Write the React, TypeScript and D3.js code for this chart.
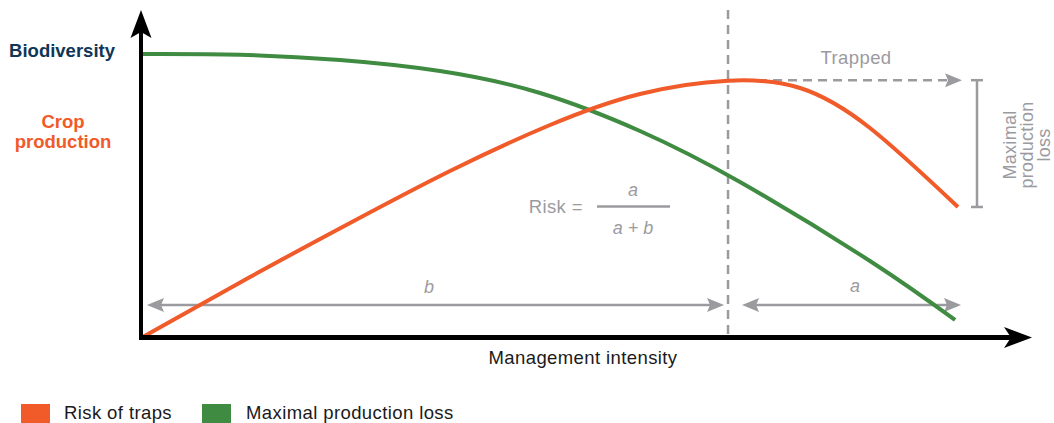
import React from "react";
import * as d3 from "d3";

// Management intensity (0–100) and curve values (0–100)
const greenIntensity = [0, 12.07, 24.27, 36.46, 48.66, 60.85, 73.05, 88.9, 99.27];
const biodiversity = [100, 99.75, 97.89, 94.01, 86.27, 72.89, 54.93, 27.11, 6.34];
const redIntensity = [0, 13.29, 25.49, 37.68, 49.88, 60.85, 71.59, 80.37, 88.9, 99.63];
const cropProduction = [0, 21.48, 40.49, 58.8, 75.0, 85.92, 90.6, 88.03, 73.94, 46.13];
const threshold = 71.59;
const legendItems = ["Risk of traps", "Maximal production loss"];

const ORANGE = "#f15a29";
const GREEN = "#3f8b41";
const NAVY = "#0f3657";
const GREY = "#9b9b9f";
const TEXT = "#1a1a1a";
const FONT = "'Liberation Sans', Arial, Helvetica, sans-serif";

export default function App() {
  const x = d3.scaleLinear().domain([0, 100]).range([141, 961]);
  const y = d3.scaleLinear().domain([0, 100]).range([338, 54]);
  const line = d3
    .line<[number, number]>()
    .x((d) => x(d[0]))
    .y((d) => y(d[1]))
    .curve(d3.curveNatural);
  const greenPts = greenIntensity.map((v, i) => [v, biodiversity[i]] as [number, number]);
  const redPts = redIntensity.map((v, i) => [v, cropProduction[i]] as [number, number]);

  const x0 = x(0);
  const y0 = y(0);
  const xEnd = x(100);
  const xt = x(threshold);
  const peakY = y(d3.max(cropProduction) as number) - 0.5;
  const lossY = y(cropProduction[cropProduction.length - 1]);
  const arrowY = 305;

  const greyHead = (tx: number, ty: number, dir: number) => {
    const L = 17, W = 7, N = 3;
    return `M${tx},${ty} L${tx - dir * L},${ty - W} L${tx - dir * (L - N)},${ty} L${tx - dir * L},${ty + W} Z`;
  };

  const fs = 18.5;
  const ls = 0.4;

  return (
    <svg width={1054} height={423} style={{ position: "absolute", left: 0, top: 0, fontFamily: FONT }}>
      <rect width={1054} height={423} fill="#fff" />
      {/* y labels */}
      <text x={115} y={57} textAnchor="end" fontSize={18.5} fontWeight="bold" fill={NAVY}>Biodiversity</text>
      <text x={63} y={128} textAnchor="middle" fontSize={18.5} fontWeight="bold" fill={ORANGE}>Crop</text>
      <text x={63} y={148} textAnchor="middle" fontSize={18.5} fontWeight="bold" fill={ORANGE}>production</text>

      {/* dashed threshold */}
      <line x1={xt} x2={xt} y1={10} y2={y0} stroke={GREY} strokeWidth={2.5} strokeDasharray="9,6" />
      <line x1={xt} x2={xEnd - 12} y1={peakY} y2={peakY} stroke={GREY} strokeWidth={2.5} strokeDasharray="9,6" />
      <path d={greyHead(xEnd + 1, peakY, 1)} fill={GREY} />
      <text x={856} y={64} textAnchor="middle" fontSize={fs} letterSpacing={ls} fill={GREY}>Trapped</text>

      {/* bracket */}
      <line x1={977} x2={977} y1={peakY} y2={lossY} stroke={GREY} strokeWidth={2.5} />
      <line x1={971} x2={983} y1={peakY} y2={peakY} stroke={GREY} strokeWidth={2.5} />
      <line x1={971} x2={983} y1={lossY} y2={lossY} stroke={GREY} strokeWidth={2.5} />
      <g transform={`translate(1024, 145) rotate(-90)`}>
        <text x={0} y={-8} textAnchor="middle" fontSize={18} letterSpacing={0.3} fill={GREY}>Maximal</text>
        <text x={0} y={9} textAnchor="middle" fontSize={18} letterSpacing={0.3} fill={GREY}>production</text>
        <text x={0} y={26} textAnchor="middle" fontSize={18} letterSpacing={0.3} fill={GREY}>loss</text>
      </g>

      {/* Risk formula */}
      <text x={583} y={213} textAnchor="end" fontSize={fs} letterSpacing={ls} fill={GREY}>Risk =</text>
      <line x1={597} x2={670} y1={206.5} y2={206.5} stroke={GREY} strokeWidth={2.5} />
      <text x={633} y={196} textAnchor="middle" fontSize={18} fontStyle="italic" fill={GREY}>a</text>
      <text x={633} y={234} textAnchor="middle" fontSize={18} fontStyle="italic" fill={GREY}>a + b</text>

      {/* b and a arrows */}
      <line x1={x0 + 16} x2={xt - 18} y1={arrowY} y2={arrowY} stroke={GREY} strokeWidth={2.5} />
      <path d={greyHead(x0 + 6, arrowY, -1)} fill={GREY} />
      <path d={greyHead(xt - 4, arrowY, 1)} fill={GREY} />
      <text x={429} y={293} textAnchor="middle" fontSize={18} fontStyle="italic" fill={GREY}>b</text>
      <line x1={xt + 22} x2={xEnd - 14} y1={arrowY} y2={arrowY} stroke={GREY} strokeWidth={2.5} />
      <path d={greyHead(xt + 14, arrowY, -1)} fill={GREY} />
      <path d={greyHead(xEnd, arrowY, 1)} fill={GREY} />
      <text x={855} y={292} textAnchor="middle" fontSize={18} fontStyle="italic" fill={GREY}>a</text>

      {/* curves */}
      <path d={line(greenPts) || ""} fill="none" stroke={GREEN} strokeWidth={4} />
      <path d={line(redPts) || ""} fill="none" stroke={ORANGE} strokeWidth={4} />

      {/* axes */}
      <line x1={x0} x2={x0} y1={y0 + 2} y2={30} stroke="#000" strokeWidth={4} />
      <path d={`M${x0},10 L${x0 + 10.5},38 L${x0},32 L${x0 - 10.5},38 Z`} fill="#000" />
      <line x1={x0 - 2} x2={1012} y1={y0 - 0.5} y2={y0 - 0.5} stroke="#000" strokeWidth={5} />
      <path d={`M1032,${y0 - 0.5} L1004,${y0 + 10} L1011,${y0 - 0.5} L1004,${y0 - 11} Z`} fill="#000" />
      <text x={583} y={364} textAnchor="middle" fontSize={fs} letterSpacing={ls} fill={TEXT}>Management intensity</text>

      {/* legend */}
      <rect x={21} y={404} width={29} height={19} fill={ORANGE} />
      <text x={64} y={419} fontSize={fs} letterSpacing={ls} fill={TEXT}>{legendItems[0]}</text>
      <rect x={202} y={404} width={29} height={19} fill={GREEN} />
      <text x={246} y={419} fontSize={fs} letterSpacing={ls} fill={TEXT}>{legendItems[1]}</text>
    </svg>
  );
}
